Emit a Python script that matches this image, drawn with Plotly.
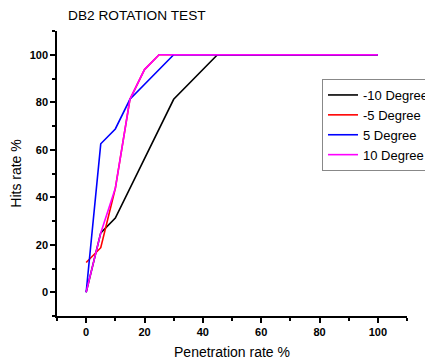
import plotly.graph_objects as go

series_names = ["-10 Degree", "-5 Degree", "5 Degree", "10 Degree"]
colors = ["#000000", "#FF0000", "#0000FF", "#FF00FF"]

x_m10 = [0, 5, 10, 20, 30, 45, 100]
y_m10 = [0, 25, 31.25, 56.25, 81.25, 100, 100]

x_m5 = [0, 5, 10, 15, 20, 25, 100]
y_m5 = [12.5, 18.75, 43.75, 81.25, 93.75, 100, 100]

x_p5 = [0, 5, 10, 15, 30, 100]
y_p5 = [0, 62.5, 68.75, 81.25, 100, 100]

x_p10 = [0, 5, 10, 15, 20, 25, 100]
y_p10 = [0, 25, 43.75, 81.25, 93.75, 100, 100]

xs = [x_m10, x_m5, x_p5, x_p10]
ys = [y_m10, y_m5, y_p5, y_p10]

FONT = "Liberation Sans, Arial, sans-serif"

# page has an 8px body margin, so figure is 425x352 shown at (8,8)
W, H = 425, 352

fig = go.Figure()
for name, c, x, y in zip(series_names, colors, xs, ys):
    fig.add_trace(go.Scatter(x=x, y=y, mode="lines", name=name,
                             line=dict(color=c, width=1.6)))

axis_common = dict(
    showline=True, linecolor="black", linewidth=1.5,
    ticks="outside", ticklen=5, tickwidth=1.5, tickcolor="black",
    showgrid=False, zeroline=False, mirror=False, automargin=False,
    tickfont=dict(family=FONT, size=11, color="black", weight="bold"),
    minor=dict(ticks="outside", ticklen=3, tickwidth=1.5, tickcolor="black", dtick=10),
)

fig.update_layout(
    width=W, height=H,
    margin=dict(l=49, r=26, t=23, b=44, autoexpand=False),
    paper_bgcolor="white", plot_bgcolor="white",
    font=dict(family=FONT, color="black"),
    title=dict(text="DB2 ROTATION TEST", x=60/W, xanchor="left",
               y=1-7/H, yanchor="middle",
               font=dict(family=FONT, size=13.7, color="black")),
    xaxis=dict(range=[-10, 110], tickvals=[0, 20, 40, 60, 80, 100],
               title=dict(text="Penetration rate %", font=dict(family=FONT, size=14), standoff=17),
               **axis_common),
    yaxis=dict(range=[-10, 110], tickvals=[0, 20, 40, 60, 80, 100],
               title=dict(text="Hits rate %", font=dict(family=FONT, size=14), standoff=5),
               **axis_common),
    legend=dict(x=(314-49)/350, y=(308-71)/285, xanchor="left", yanchor="top",
                bordercolor="#888888", borderwidth=1, bgcolor="white",
                font=dict(family=FONT, size=13, color="black"),
                tracegroupgap=0, itemwidth=30),
    showlegend=True,
)

fig.write_html("out.html")
